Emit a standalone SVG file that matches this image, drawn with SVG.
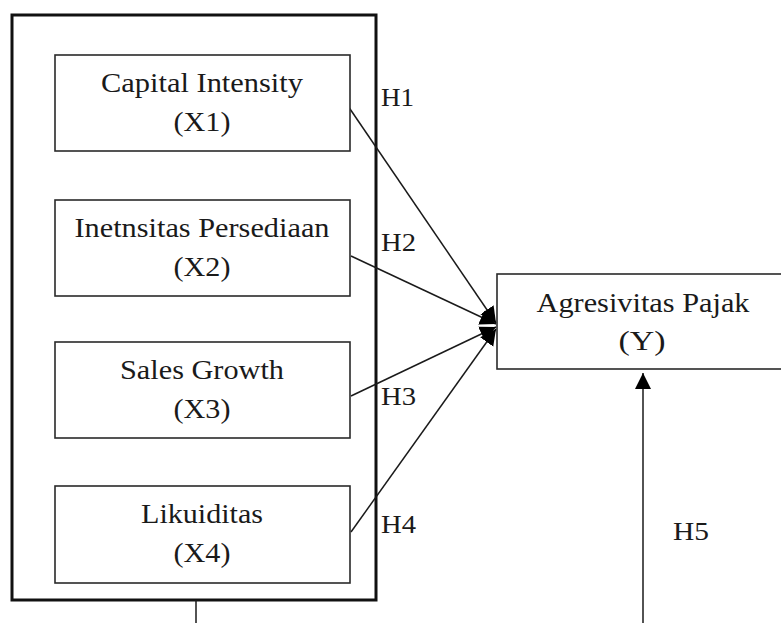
<svg xmlns="http://www.w3.org/2000/svg" width="781" height="623" viewBox="0 0 781 623">
<style>
.box{fill:#fff;stroke:#2a2a2a;stroke-width:1.6}
.outer{fill:none;stroke:#111;stroke-width:3}
text{font-family:'Liberation Serif','Times New Roman',Times,serif;fill:#1a1a1a}
.t{font-size:27px;text-anchor:middle}
.h{font-size:25px}
.c{stroke:#1a1a1a;stroke-width:1.5;fill:none}
</style>
<defs>
<marker id="ah" markerUnits="userSpaceOnUse" markerWidth="18" markerHeight="18" viewBox="0 0 18 18" refX="16" refY="9" orient="auto">
<path d="M0,1 L16,9 L0,17 Z" fill="#000"/>
</marker>
</defs>
<rect x="0" y="0" width="781" height="623" fill="#fff"/>
<g id="outer-frame">
<rect class="outer" x="12" y="15" width="364" height="585"/>
</g>
<g id="connectors">
<line class="c" x1="348" y1="106" x2="496" y2="323" marker-end="url(#ah)"/>
<line class="c" x1="351" y1="256" x2="496" y2="324" marker-end="url(#ah)"/>
<line class="c" x1="351" y1="396" x2="496" y2="327" marker-end="url(#ah)"/>
<line class="c" x1="351" y1="532" x2="496" y2="329" marker-end="url(#ah)"/>
<line class="c" x1="643" y1="623" x2="643" y2="373" marker-end="url(#ah)"/>
<line class="c" x1="196" y1="600" x2="196" y2="623"/>
</g>
<g id="x1">
<rect class="box" x="55" y="55" width="295" height="96"/>
<text class="t" x="202" y="92" textLength="202" lengthAdjust="spacingAndGlyphs">Capital Intensity</text>
<text class="t" x="202" y="131" textLength="57" lengthAdjust="spacingAndGlyphs">(X1)</text>
</g>
<g id="x2">
<rect class="box" x="55" y="200" width="295" height="96"/>
<text class="t" x="202" y="237" textLength="255" lengthAdjust="spacingAndGlyphs">Inetnsitas Persediaan</text>
<text class="t" x="202" y="276" textLength="57" lengthAdjust="spacingAndGlyphs">(X2)</text>
</g>
<g id="x3">
<rect class="box" x="55" y="342" width="295" height="96"/>
<text class="t" x="202" y="379" textLength="164" lengthAdjust="spacingAndGlyphs">Sales Growth</text>
<text class="t" x="202" y="418" textLength="57" lengthAdjust="spacingAndGlyphs">(X3)</text>
</g>
<g id="x4">
<rect class="box" x="55" y="486" width="295" height="97"/>
<text class="t" x="202" y="523" textLength="122" lengthAdjust="spacingAndGlyphs">Likuiditas</text>
<text class="t" x="202" y="562" textLength="57" lengthAdjust="spacingAndGlyphs">(X4)</text>
</g>
<g id="y">
<rect class="box" x="497" y="274" width="300" height="95"/>
<text class="t" x="643" y="312" textLength="213" lengthAdjust="spacingAndGlyphs">Agresivitas Pajak</text>
<text class="t" x="642" y="350" textLength="47" lengthAdjust="spacingAndGlyphs">(Y)</text>
</g>
<g id="labels">
<text class="h" x="381" y="106" textLength="33" lengthAdjust="spacingAndGlyphs">H1</text>
<text class="h" x="381" y="251" textLength="35" lengthAdjust="spacingAndGlyphs">H2</text>
<text class="h" x="381" y="405" textLength="35" lengthAdjust="spacingAndGlyphs">H3</text>
<text class="h" x="381" y="533" textLength="35" lengthAdjust="spacingAndGlyphs">H4</text>
<text class="h" x="673" y="540" textLength="36" lengthAdjust="spacingAndGlyphs">H5</text>
</g>
</svg>
